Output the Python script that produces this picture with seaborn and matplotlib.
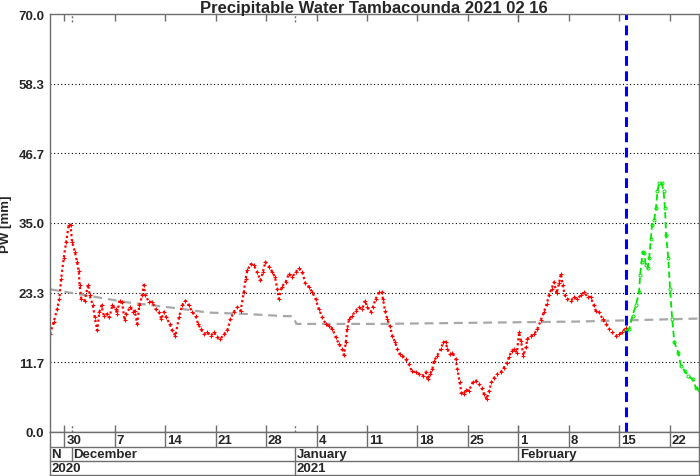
import numpy as np
import pandas as pd
import matplotlib
matplotlib.use("Agg")
import matplotlib.pyplot as plt
import seaborn as sns

# ---------------- data (days since 2020-11-28 00:00) ----------------
red_day = [0.0, 0.5, 1.0, 1.3, 1.55, 1.9, 2.25, 2.6, 2.85, 3.05, 3.45, 3.75, 4.0, 4.1, 4.35, 4.8, 5.3, 5.5,
           5.95, 6.2, 6.55, 6.85, 7.15, 7.45, 7.95, 8.25, 8.65, 9.1, 9.3, 9.65, 10.0, 10.35, 10.55, 11.15,
           11.5, 11.75, 12.1, 12.4, 12.8, 13.0, 13.25, 13.7, 14.2, 14.65, 15.1, 15.45, 15.8, 16.15, 16.6,
           16.95, 17.4, 17.9, 18.35, 18.8, 19.25, 19.75, 20.2, 20.55, 20.9, 21.35, 21.8, 22.3, 22.75, 23.2,
           23.65, 24.15, 24.6, 25.05, 25.5, 26.0, 26.45, 26.9, 27.15, 27.4, 27.85, 28.3, 28.75, 29.2, 29.55,
           29.9, 30.4, 30.85, 31.2, 31.55, 31.75, 32.15, 32.7, 33.15, 33.65, 34.1, 34.55, 35.0, 35.45, 35.95,
           36.4, 36.85, 37.3, 37.8, 38.25, 38.7, 39.2, 39.65, 40.1, 40.55, 40.8, 41.05, 41.25, 41.5, 41.95,
           42.4, 42.9, 43.35, 43.7, 44.05, 44.5, 44.8, 45.2, 45.65, 46.05, 46.2, 46.5, 46.8, 47.15, 47.5,
           47.9, 48.2, 48.55, 48.9, 49.35, 49.8, 50.2, 50.75, 51.2, 51.7, 52.15, 52.4, 52.75, 53.05, 53.3,
           53.75, 54.2, 54.6, 54.9, 55.15, 55.5, 55.85, 56.3, 56.55, 56.85, 57.1, 57.4, 57.7, 58.15, 58.65,
           59.1, 59.55, 59.9, 60.25, 60.6, 60.95, 61.25, 61.65, 62.1, 62.55, 63.0, 63.4, 63.7, 64.05, 64.4,
           64.8, 65.1, 65.35, 65.7, 66.05, 66.25, 66.7, 67.2, 67.65, 68.1, 68.55, 68.95, 69.25, 69.6, 69.95,
           70.3, 70.65, 70.9, 71.15, 71.45, 71.8, 72.3, 72.75, 73.2, 73.65, 74.15, 74.6, 75.05, 75.45, 75.75,
           76.2, 76.7, 77.15, 77.6, 78.05, 78.55, 79.0, 79.45, 79.9, 80.0]
red_pw = [16.4, 18.4, 20.6, 22.3, 25.7, 29.1, 31.9, 34.7, 34.7, 31.9, 30.2, 28.5, 26.9, 24.6, 22.3, 22.0, 24.7, 22.9,
          21.2, 19.3, 17.0, 20.1, 21.2, 19.5, 19.8, 19.2, 21.2, 20.6, 19.8, 22.0, 21.8, 18.7, 19.8, 20.9,
          20.1, 20.3, 18.1, 21.2, 22.9, 24.6, 22.9, 21.8, 21.8, 20.6, 20.1, 18.9, 20.1, 19.2, 18.1,
          17.0, 16.1, 19.2, 21.2, 22.0, 21.2, 20.1, 19.5, 18.1, 17.3, 16.4, 16.7, 16.1, 16.7, 15.9,
          15.6, 16.4, 17.0, 18.9, 20.1, 20.9, 20.3, 23.4, 25.7, 27.1, 28.1, 27.9, 26.8, 25.4, 26.8,
          28.5, 27.7, 26.8, 26.0, 24.0, 22.3, 24.3, 25.1, 26.5, 26.0, 26.8, 27.4, 26.8, 24.9, 24.3,
          23.4, 22.3, 20.6, 19.2, 18.1, 17.8, 17.3, 15.9, 14.7, 13.9, 12.9, 15.0, 17.3, 18.9, 19.5,
          20.3, 20.9, 20.6, 22.0, 20.9, 20.1, 20.9, 22.3, 23.4, 23.4, 22.3, 20.3, 18.9, 17.8, 16.1,
          15.0, 13.9, 13.0, 12.8, 12.2, 11.4, 10.2, 10.0, 9.7, 9.4, 10.0, 8.8, 9.7, 10.5, 11.9,
          12.8, 13.9, 15.0, 15.1, 13.9, 13.0, 13.3, 12.2, 10.5, 8.3, 6.6, 6.3, 7.1, 6.9, 8.3,
          8.6, 8.0, 7.4, 6.3, 5.5, 6.9, 8.3, 9.1, 9.7, 10.0, 10.8, 11.6, 12.5, 13.6, 13.9,
          13.3, 16.7, 15.3, 12.8, 14.2, 15.6, 16.1, 16.4, 17.3, 18.7, 20.1, 21.5, 22.9, 24.0, 25.1,
          23.2, 24.9, 26.5, 24.6, 22.9, 22.3, 22.0, 22.6, 22.3, 22.9, 23.4, 22.6, 22.6, 21.2, 20.3,
          20.1, 18.9, 18.1, 17.3, 16.7, 16.1, 16.4, 16.7, 17.5, 17.5]

green_day = [80.0, 80.4, 80.85, 81.3, 81.75, 81.9, 82.1, 82.25, 82.45, 82.7, 82.95, 83.15, 83.4, 83.55, 83.85,
             84.1, 84.3, 84.55, 84.9, 85.15, 85.35, 85.5, 85.8, 86.05, 86.35, 86.65, 87.2, 87.55, 88.1, 88.55,
             89.2, 89.65, 90.0]
green_pw = [16.9, 17.3, 19.5, 21.2, 23.4, 26.3, 28.5, 30.2, 29.9, 27.9, 27.4, 29.1, 32.4, 34.7, 35.5,
            37.5, 40.3, 41.7, 41.7, 40.3, 37.5, 33.0, 29.1, 24.0, 18.9, 15.0, 13.3, 11.1, 10.2, 9.4,
            8.8, 7.4, 7.1]

clim_day = [0.0, 3.9, 10.8, 17.75, 21.9, 26.6, 32.6, 33.7, 34.2, 45.8, 59.6, 73.5, 90.0]
clim_pw = [23.9, 23.1, 21.7, 20.7, 20.0, 19.8, 19.4, 19.4, 18.1, 18.1, 18.3, 18.5, 19.0]

forecast_day = 80.0  # 2021-02-16

y_ticks = [0.0, 11.7, 23.3, 35.0, 46.7, 58.3, 70.0]

week_day = [2, 9, 16, 23, 30, 37, 44, 51, 58, 65, 72, 79, 86]
week_labels = ["30", "7", "14", "21", "28", "4", "11", "18", "25", "1", "8", "15", "22"]
month_day = [0, 3, 34, 65]
month_labels = ["N", "December", "January", "February"]
year_day = [0, 34]
year_labels = ["2020", "2021"]

title = "Precipitable Water Tambacounda 2021 02 16"
ylabel = "PW [mm]"

# ---------------- style ----------------
sns.set_style("white")
plt.rcParams["font.family"] = ["Liberation Sans", "DejaVu Sans"]
plt.rcParams["font.weight"] = "bold"

W, H = 700, 477
fig = plt.figure(figsize=(W / 100, H / 100), dpi=100)
frame_c = "#6e6e6e"

ax = fig.add_axes([50 / W, 1 - 433 / H, 648.5 / W, 418 / H])

red_df = pd.DataFrame({"day": red_day, "pw": red_pw})
green_df = pd.DataFrame({"day": green_day, "pw": green_pw})
clim_df = pd.DataFrame({"day": clim_day, "pw": clim_pw})

sns.lineplot(data=clim_df, x="day", y="pw", ax=ax, color="#a8a8a8", lw=1.6,
             linestyle=(0, (4, 2.6)), estimator=None, sort=False)
sns.lineplot(data=red_df, x="day", y="pw", ax=ax, color="#ff0000", lw=1.6,
             linestyle=(0, (1, 1.2)), marker="+", markersize=2.8, markeredgewidth=0.8,
             markeredgecolor="#ff0000", estimator=None, sort=False)
sns.lineplot(data=green_df, x="day", y="pw", ax=ax, color="#00e600", lw=1.3,
             linestyle=(0, (3.5, 2)), marker="o", markersize=2.2, markerfacecolor="none",
             markeredgecolor="#00e600", markeredgewidth=0.7, estimator=None, sort=False)
ax.axvline(forecast_day, color="#0000ff", lw=2.2, linestyle=(0, (3.2, 1.8)))

ax.set_xlim(0, 90)
ax.set_ylim(0, 70)
ax.set_yticks(y_ticks)
ax.set_yticklabels([f"{v:.1f}" for v in y_ticks], fontsize=9.5, fontweight="bold")
ax.tick_params(axis="y", length=0, pad=4)
ax.set_xticks(week_day)
ax.tick_params(axis="x", direction="in", length=5, top=True, bottom=True,
               labelbottom=False, color=frame_c, width=1)
for y in y_ticks[1:-1]:
    ax.axhline(y, color="black", lw=0.8, linestyle=(0, (1, 2.2)), zorder=0)
for d in month_day[1:]:
    ax.axvline(d, ymin=0, ymax=8 / 418, color=frame_c, lw=1, linestyle=(0, (1.5, 1.5)))
    ax.axvline(d, ymin=1 - 8 / 418, ymax=1, color=frame_c, lw=1, linestyle=(0, (1.5, 1.5)))
for s in ax.spines.values():
    s.set_color(frame_c)
    s.set_linewidth(1)
ax.set_xlabel("")
ax.set_ylabel(ylabel, fontsize=9.5, fontweight="bold")
ax.yaxis.set_label_coords(-(50 - 12) / 648.5, 0.5)

# ---------------- date rows ----------------
ax2 = fig.add_axes([50 / W, 1 - 476 / H, 648.5 / W, 43 / H])
ax2.set_xlim(0, 90)
ax2.set_ylim(43, 0)
ax2.set_xticks([])
ax2.set_yticks([])
for s in ax2.spines.values():
    s.set_color(frame_c)
    s.set_linewidth(1)
ax2.axhline(15, color=frame_c, lw=1)
ax2.axhline(29, color=frame_c, lw=1)
for d, lab in zip(week_day, week_labels):
    ax2.plot([d, d], [0, 15], color=frame_c, lw=1)
    ax2.text(d + 0.25, 8, lab, ha="left", va="center", fontsize=9.5, fontweight="bold")
for d, lab in zip(month_day, month_labels):
    if d > 0:
        ax2.plot([d, d], [15, 29], color=frame_c, lw=1)
    ax2.text(d + 0.2, 22.3, lab, ha="left", va="center", fontsize=9.5, fontweight="bold")
for d, lab in zip(year_day, year_labels):
    if d > 0:
        ax2.plot([d, d], [29, 43], color=frame_c, lw=1)
    ax2.text(d + 0.2, 36.3, lab, ha="left", va="center", fontsize=9.5, fontweight="bold")

fig.text(374 / W, 1 - 8 / H, title, ha="center", va="center", fontsize=12, fontweight="bold")

fig.savefig("out.png", dpi=100)
